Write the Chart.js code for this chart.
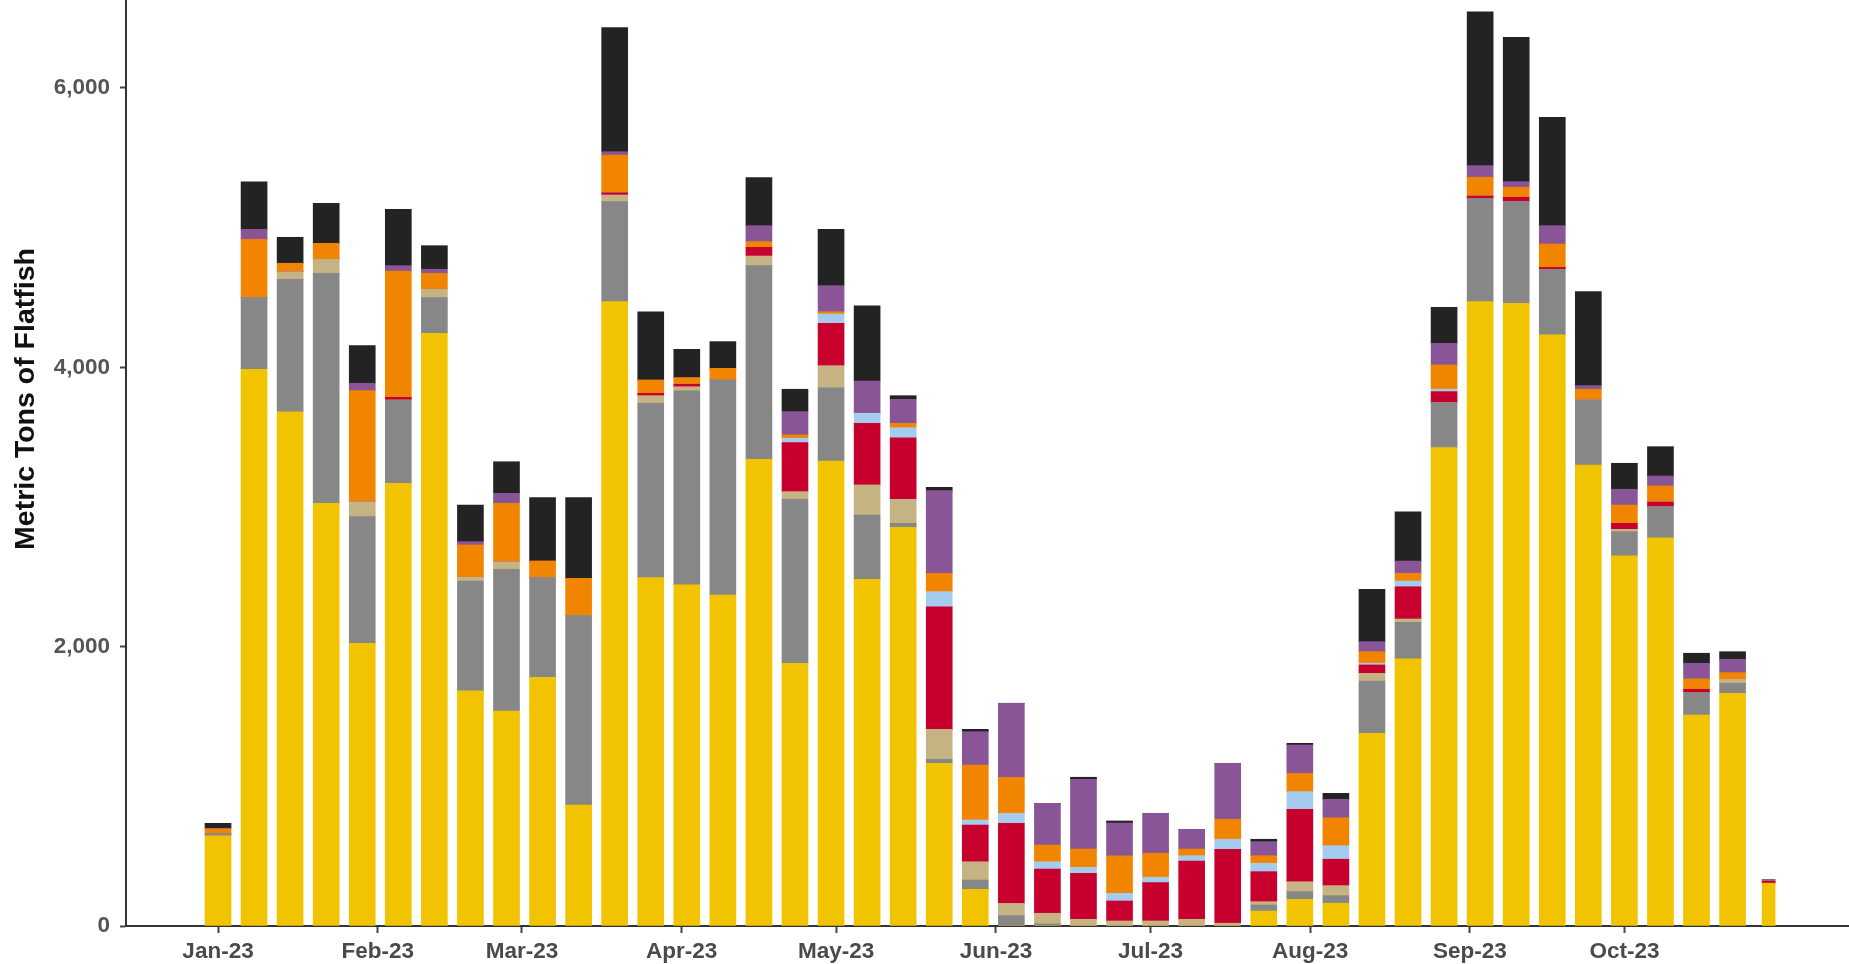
<!DOCTYPE html>
<html>
<head>
<meta charset="utf-8">
<script src="https://cdn.jsdelivr.net/npm/chart.js@4.4.1/dist/chart.umd.min.js"></script>
<style>
html,body{margin:0;padding:0;background:#fff;overflow:hidden}
#wrap{width:1849px;height:964px;position:relative}
</style>
</head>
<body>
<div id="wrap"><canvas id="c" width="1849" height="964"></canvas></div>
<script>
// ---- categories (week start dates) ----
const weekStarts = [
  '2023-01-01','2023-01-08','2023-01-15','2023-01-22','2023-01-29',
  '2023-02-05','2023-02-12','2023-02-19','2023-02-26',
  '2023-03-05','2023-03-12','2023-03-19','2023-03-26',
  '2023-04-02','2023-04-09','2023-04-16','2023-04-23','2023-04-30',
  '2023-05-07','2023-05-14','2023-05-21','2023-05-28',
  '2023-06-04','2023-06-11','2023-06-18','2023-06-25',
  '2023-07-02','2023-07-09','2023-07-16','2023-07-23','2023-07-30',
  '2023-08-06','2023-08-13','2023-08-20','2023-08-27',
  '2023-09-03','2023-09-10','2023-09-17','2023-09-24',
  '2023-10-01','2023-10-08','2023-10-15','2023-10-22','2023-10-29'
];

// ---- tick labels ----
const monthTickDates = ['2023-01-01','2023-02-01','2023-03-01','2023-04-01','2023-05-01','2023-06-01','2023-07-01','2023-08-01','2023-09-01','2023-10-01'];
const monthTickLabels = ['Jan-23','Feb-23','Mar-23','Apr-23','May-23','Jun-23','Jul-23','Aug-23','Sep-23','Oct-23'];
const yTickValues = [0, 2000, 4000, 6000];
const yTitle = 'Metric Tons of Flatfish';

// ---- series values (metric tons), stacked bottom to top ----
const seriesYellow = [645,3986,3682,3027,2024,3170,4244,1683,1539,1781,866,4470,2494,2442,2370,3342,1881,3329,2482,2855,1165,263,0,0,0,0,0,0,0,107,191,163,1380,1912,3425,4470,4458,4232,3301,2651,2780,1511,1666,306];
const seriesGray   = [15,513,948,1646,907,596,255,787,1015,713,1356,716,1248,1389,1539,1386,1174,525,461,28,29,66,74,15,0,0,0,0,0,43,55,54,374,262,322,740,728,470,465,172,222,159,72,0];
const seriesTan    = [0,0,55,101,107,0,60,27,54,0,0,48,55,30,0,69,55,158,215,172,214,131,88,76,48,36,36,48,20,24,71,72,55,24,0,0,0,0,0,17,0,0,28,0];
const seriesRed    = [0,0,0,0,0,19,0,0,0,0,0,16,17,18,0,62,351,303,441,441,878,263,573,317,329,143,274,417,529,215,519,189,60,231,79,17,31,14,0,43,34,25,0,15];
const seriesBlue   = [0,0,0,0,0,0,0,0,0,0,0,0,0,0,0,0,31,67,72,72,108,36,72,52,43,55,39,38,72,60,126,97,12,41,17,0,0,0,0,0,0,0,0,0];
const seriesOrange = [35,418,60,114,795,905,114,231,419,119,267,270,95,47,84,41,24,16,0,31,131,394,258,120,131,269,172,48,143,54,131,200,83,55,174,134,72,167,77,131,115,74,48,0];
const seriesPurple = [5,71,0,0,53,38,29,24,71,0,0,24,0,0,0,114,167,187,231,172,592,238,530,298,499,234,286,141,401,101,203,132,72,88,155,83,40,131,26,113,71,112,96,10];
const seriesBlack  = [35,341,186,287,269,404,169,262,226,454,578,888,489,203,191,344,160,403,539,26,24,17,0,0,15,15,0,0,0,17,12,43,375,353,258,1102,1034,776,673,186,210,72,54,0];

const seriesList = [
  {label:'Series 1', values:seriesYellow, color:'#F1C300'},
  {label:'Series 2', values:seriesGray,   color:'#878787'},
  {label:'Series 3', values:seriesTan,    color:'#C6B384'},
  {label:'Series 4', values:seriesRed,    color:'#C8002E'},
  {label:'Series 5', values:seriesBlue,   color:'#A5CBEE'},
  {label:'Series 6', values:seriesOrange, color:'#F28500'},
  {label:'Series 7', values:seriesPurple, color:'#8A5597'},
  {label:'Series 8', values:seriesBlack,  color:'#232323'}
];

const DAY = 86400000;
const origin = Date.UTC(2023,0,1);
function dayOf(s){ const [y,m,d] = s.split('-').map(Number); return (Date.UTC(y,m-1,d) - origin)/DAY; }
const weekX = weekStarts.map(dayOf);
const tickX = monthTickDates.map(dayOf);
const lastIdx = weekStarts.length - 1; // final, partial week drawn narrower

const datasets = [];
seriesList.forEach(s => {
  datasets.push({
    label: s.label,
    data: weekX.slice(0, lastIdx).map((x,i) => ({x, y: s.values[i]})),
    backgroundColor: s.color,
    borderWidth: 0,
    barThickness: 26
  });
});
seriesList.forEach(s => {
  datasets.push({
    label: s.label + ' (partial week)',
    data: [{x: weekX[lastIdx], y: s.values[lastIdx]}],
    backgroundColor: s.color,
    borderWidth: 0,
    barThickness: 13
  });
});

const yTitlePlugin = {
  id: 'yTitlePlugin',
  afterDraw(chart){
    const ctx = chart.ctx;
    ctx.save();
    ctx.translate(34, 399);
    ctx.rotate(-Math.PI/2);
    ctx.font = 'bold 28.5px "Liberation Sans", Arial, sans-serif';
    ctx.fillStyle = '#111111';
    ctx.textAlign = 'center';
    ctx.textBaseline = 'alphabetic';
    ctx.fillText(yTitle, 0, 0);
    ctx.restore();
  }
};

new Chart(document.getElementById('c'), {
  type: 'bar',
  data: { datasets },
  options: {
    responsive: false,
    animation: false,
    layout: { padding: { top: 0, right: 0, bottom: 0, left: 0 } },
    plugins: { legend: { display: false }, tooltip: { enabled: false }, title: { display: false } },
    scales: {
      x: {
        type: 'linear',
        stacked: true,
        min: -17.86,
        max: 316.6,
        offset: false,
        afterBuildTicks: axis => { axis.ticks = tickX.map(v => ({value: v})); },
        afterFit: axis => { axis.height = 38; axis.paddingLeft = 0; axis.paddingRight = 0; },
        ticks: {
          autoSkip: false,
          maxRotation: 0,
          padding: 5,
          color: '#4a4a4a',
          font: { family: '"Liberation Sans", Arial, sans-serif', size: 22.5, weight: 'bold' },
          callback: function(value){ const k = tickX.indexOf(value); return k >= 0 ? monthTickLabels[k] : ''; }
        },
        grid: { display: true, offset: false, drawOnChartArea: false, drawTicks: true, tickLength: 7, tickColor: '#444', tickWidth: 2 },
        border: { display: true, color: '#333', width: 2 }
      },
      y: {
        type: 'linear',
        stacked: true,
        min: 0,
        max: 6630,
        afterBuildTicks: axis => { axis.ticks = yTickValues.map(v => ({value: v})); },
        afterFit: axis => { axis.width = 126; axis.paddingTop = 0; axis.paddingBottom = 0; },
        ticks: {
          padding: 10,
          color: '#555555',
          font: { family: '"Liberation Sans", Arial, sans-serif', size: 22.5, weight: 'bold' },
          callback: v => v.toLocaleString('en-US')
        },
        grid: { display: true, offset: false, drawOnChartArea: false, drawTicks: true, tickLength: 6, tickColor: '#444', tickWidth: 2 },
        border: { display: true, color: '#333', width: 2 }
      }
    }
  },
  plugins: [yTitlePlugin]
});
</script>
</body>
</html>
